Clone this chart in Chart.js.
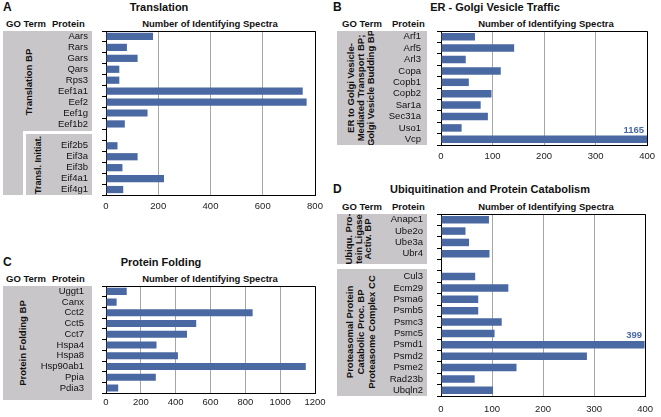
<!DOCTYPE html>
<html>
<head>
<meta charset="utf-8">
<script src="https://cdn.jsdelivr.net/npm/chart.js@4.4.1/dist/chart.umd.min.js"></script>
<style>
  body { margin: 0; width: 661px; height: 417px; background: #fff; position: relative; overflow: hidden; font-family: "Liberation Sans", Arial, sans-serif; color: #111; }
  .txt { position: absolute; white-space: nowrap; line-height: 1; transform: translateY(-50%); }
  .mid { transform: translate(-50%, -50%); }
  .letter { font-size: 12px; font-weight: bold; }
  .title { font-size: 11px; font-weight: bold; }
  .head { font-size: 9.5px; font-weight: bold; }
  .box { position: absolute; background: #c9c6ca; overflow: hidden; }
  .goterm { position: absolute; font-size: 9px; font-weight: bold; white-space: nowrap; text-align: center; line-height: 10px; transform: translate(-50%, -50%) rotate(-90deg); }
  canvas { position: absolute; }
</style>
</head>
<body>
  <!-- panel headings -->
  <div class="txt letter" style="left:3px; top:7px;">A</div>
  <div class="txt title mid" style="left:159px; top:7px;">Translation</div>
  <div class="txt head" style="left:6px; top:24px;">GO Term</div>
  <div class="txt head" style="left:52px; top:24px;">Protein</div>
  <div class="txt head mid" style="left:210px; top:24px;">Number of Identifying Spectra</div>

  <div class="txt letter" style="left:333px; top:7px;">B</div>
  <div class="txt title mid" style="left:495px; top:7px;">ER - Golgi Vesicle Traffic</div>
  <div class="txt head" style="left:342px; top:24px;">GO Term</div>
  <div class="txt head" style="left:392px; top:24px;">Protein</div>
  <div class="txt head mid" style="left:546px; top:24px;">Number of Identifying Spectra</div>

  <div class="txt letter" style="left:3px; top:262px;">C</div>
  <div class="txt title mid" style="left:161px; top:262px;">Protein Folding</div>
  <div class="txt head" style="left:6px; top:279px;">GO Term</div>
  <div class="txt head" style="left:52px; top:279px;">Protein</div>
  <div class="txt head mid" style="left:210px; top:279px;">Number of Identifying Spectra</div>

  <div class="txt letter" style="left:333px; top:189px;">D</div>
  <div class="txt title mid" style="left:490px; top:189px;">Ubiquitination and Protein Catabolism</div>
  <div class="txt head" style="left:342px; top:207px;">GO Term</div>
  <div class="txt head" style="left:392px; top:207px;">Protein</div>
  <div class="txt head mid" style="left:546px; top:207px;">Number of Identifying Spectra</div>

  <!-- GO term boxes -->
  <div class="box" style="left:3px; top:31px; width:89px; height:100px;">
    <div class="goterm" style="left:26px; top:51px; font-size:9.5px;">Translation BP</div>
  </div>
  <div class="box" style="left:3px; top:131px; width:20px; height:64px;"></div>
  <div class="box" style="left:26px; top:134px; width:66px; height:61px;">
    <div class="goterm" style="left:12px; top:31px;">Transl. Initiat.</div>
  </div>

  <div class="box" style="left:337px; top:31px; width:90px; height:114px;">
    <div class="goterm" style="left:24px; top:57px; font-size:9.5px;">ER to Golgi Vesicle-<br>Mediated Transport BP;<br>Golgi Vesicle Budding BP</div>
  </div>

  <div class="box" style="left:3px; top:286px; width:89px; height:114px;">
    <div class="goterm" style="left:20px; top:57px; font-size:9.5px;">Protein Folding BP</div>
  </div>

  <div class="box" style="left:337px; top:214px; width:90px; height:50px;">
    <div class="goterm" style="left:21px; top:25px; line-height:9.5px; font-size:9.5px;">Ubiqu. Pro-<br>tein Ligase<br>Activ. BP</div>
  </div>
  <div class="box" style="left:337px; top:269px; width:90px; height:127px;">
    <div class="goterm" style="left:23px; top:63px; line-height:11px; font-size:9.5px;">Proteasomal Protein<br>Catabolic Proc. BP<br>Proteasome Complex CC</div>
  </div>

  <!-- charts -->
  <canvas id="chartA" width="330" height="220" style="left:0px; top:0px;"></canvas>
  <canvas id="chartB" width="331" height="168" style="left:330px; top:0px;"></canvas>
  <canvas id="chartC" width="330" height="177" style="left:0px; top:240px;"></canvas>
  <canvas id="chartD" width="331" height="247" style="left:330px; top:170px;"></canvas>

<script>
/* chart data */
const translationProteins = ["Aars", "Rars", "Gars", "Qars", "Rps3", "Eef1a1", "Eef2", "Eef1g", "Eef1b2", "", "Eif2b5", "Eif3a", "Eif3b", "Eif4a1", "Eif4g1"];
const translationSpectra = [180, 80, 121, 51, 51, 753, 768, 159, 72, null, 44, 121, 63, 222, 66];
const translationTicks = [0, 200, 400, 600, 800];

const vesicleProteins = ["Arf1", "Arf5", "Arl3", "Copa", "Copb1", "Copb2", "Sar1a", "Sec31a", "Uso1", "Vcp"];
const vesicleSpectra = [66, 142, 48, 116, 54, 98, 77, 91, 40, 1165];
const vesicleTicks = [0, 100, 200, 300, 400];

const foldingProteins = ["Uggt1", "Canx", "Cct2", "Cct5", "Cct7", "Hspa4", "Hspa8", "Hsp90ab1", "Ppia", "Pdia3"];
const foldingSpectra = [119, 61, 842, 518, 465, 290, 413, 1147, 286, 70];
const foldingTicks = [0, 200, 400, 600, 800, 1000, 1200];

const ubiquitinProteins = ["Anapc1", "Ube2o", "Ube3a", "Ubr4", "", "Cul3", "Ecm29", "Psma6", "Psmb5", "Psmc3", "Psmc5", "Psmd1", "Psmd2", "Psme2", "Rad23b", "Ubqln2"];
const ubiquitinSpectra = [94, 48, 55, 95, null, 67, 132, 73, 73, 119, 105, 399, 286, 148, 66, 102];
const ubiquitinTicks = [0, 100, 200, 300, 400];

const BAR_COLOR = "#4a68a2";
const FONT = '"Liberation Sans", Arial, sans-serif';

/* top and right edge of the plot frame */
const framePlugin = {
  id: "frame",
  afterDraw(chart) {
    const { ctx, chartArea } = chart;
    const l = Math.round(chartArea.left);
    const t = Math.round(chartArea.top) + 0.5;
    const r = Math.round(chartArea.right) + 0.5;
    const b = Math.round(chartArea.bottom);
    ctx.save();
    ctx.strokeStyle = "#000";
    ctx.lineWidth = 1;
    ctx.beginPath();
    ctx.moveTo(l, t);
    ctx.lineTo(r, t);
    ctx.lineTo(r, b);
    ctx.stroke();
    ctx.restore();
  },
};

/* writes the value over a bar that reaches the axis end */
const overflowPlugin = {
  id: "overflow",
  afterDatasetsDraw(chart) {
    const { ctx, chartArea } = chart;
    const xScale = chart.scales.x;
    const meta = chart.getDatasetMeta(0);
    const values = chart.data.datasets[0].data;
    ctx.save();
    ctx.fillStyle = BAR_COLOR;
    ctx.font = "bold 9.5px " + FONT;
    ctx.textAlign = "right";
    ctx.textBaseline = "middle";
    values.forEach((v, i) => {
      if (v !== null && v >= xScale.max * 0.99) {
        ctx.fillText(String(v), chartArea.right - 3, meta.data[i].y - 9);
      }
    });
    ctx.restore();
  },
};

/**
 * Draws one horizontal bar panel
 * @param {string} id canvas id
 * @param {string[]} proteins
 * @param {number[]} spectra
 * @param {number[]} ticks
 * @param {Object} box plot area inside the canvas
 */
const drawPanel = (id, proteins, spectra, ticks, box) => {
  const canvas = document.getElementById(id);
  return new Chart(canvas, {
    type: "bar",
    data: {
      labels: proteins,
      datasets: [
        {
          data: spectra,
          backgroundColor: BAR_COLOR,
          barPercentage: 0.66,
          categoryPercentage: 1,
        },
      ],
    },
    options: {
      indexAxis: "y",
      responsive: false,
      animation: false,
      devicePixelRatio: 1,
      layout: {
        padding: { left: 0, top: box.top, right: canvas.width - box.right, bottom: 0 },
      },
      plugins: {
        legend: { display: false },
        tooltip: { enabled: false },
      },
      scales: {
        x: {
          min: ticks[0],
          max: ticks[ticks.length - 1],
          afterBuildTicks: (scale) => {
            scale.ticks = ticks.map((v) => ({ value: v }));
          },
          afterFit: (scale) => {
            scale.height = canvas.height - box.bottom;
          },
          grid: { color: "#a6a6a6", drawTicks: false },
          border: { display: true, color: "#000" },
          ticks: {
            font: { family: FONT, size: 9.5 },
            color: "#222",
            padding: box.tickGap,
            maxRotation: 0,
            autoSkip: false,
            callback: (value) => String(value),
          },
        },
        y: {
          afterFit: (scale) => {
            scale.width = box.left;
          },
          grid: { drawOnChartArea: false, drawTicks: true, tickLength: 4, tickColor: "#000", offset: true },
          border: { display: true, color: "#000" },
          ticks: {
            font: { family: FONT, size: 9.5 },
            color: "#111",
            padding: box.labelGap,
            autoSkip: false,
          },
        },
      },
    },
    plugins: [framePlugin, overflowPlugin],
  });
};

document.addEventListener("DOMContentLoaded", () => {
  try {
    drawPanel("chartA", translationProteins, translationSpectra, translationTicks,
      { left: 106, right: 315, top: 31, bottom: 195, labelGap: 14, tickGap: 6 });
    drawPanel("chartB", vesicleProteins, vesicleSpectra, vesicleTicks,
      { left: 111, right: 321, top: 31, bottom: 145, labelGap: 16, tickGap: 6 });
    drawPanel("chartC", foldingProteins, foldingSpectra, foldingTicks,
      { left: 106, right: 315, top: 46, bottom: 160, labelGap: 18, tickGap: 3 });
    drawPanel("chartD", ubiquitinProteins, ubiquitinSpectra, ubiquitinTicks,
      { left: 111, right: 321, top: 44, bottom: 226, labelGap: 14, tickGap: 8 });
  } catch (error) {
    console.log(error);
  }
});
</script>
</body>
</html>
